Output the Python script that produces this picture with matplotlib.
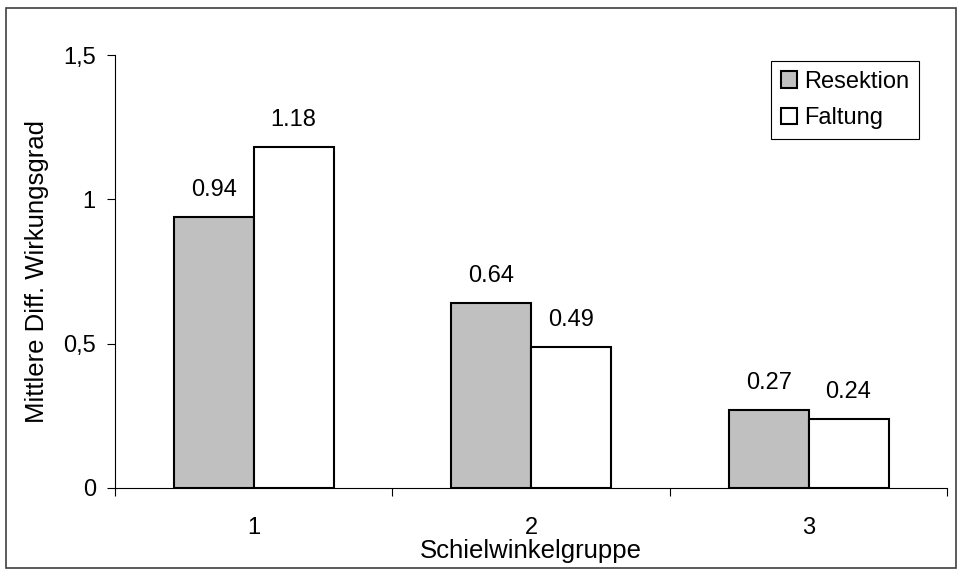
import numpy as np
import matplotlib.pyplot as plt
from matplotlib.patches import Rectangle
from matplotlib.ticker import FixedLocator

groups = ['1', '2', '3']
resektion = [0.94, 0.64, 0.27]
faltung = [1.18, 0.49, 0.24]
yticks = [0, 0.5, 1, 1.5]
ytick_labels = ['0', '0,5', '1', '1,5']

plt.rcParams['font.family'] = ['Liberation Sans', 'DejaVu Sans']
plt.rcParams['font.size'] = 17

fig = plt.figure(figsize=(9.6, 5.7), dpi=100)
ax = fig.add_axes([0.1198, 0.1439, 0.867, 0.7596])

x = np.arange(len(groups))
w = 0.288
b1 = ax.bar(x - w / 2, resektion, w, color='#c0c0c0', edgecolor='black',
            linewidth=1.5, label='Resektion')
b2 = ax.bar(x + w / 2, faltung, w, color='white', edgecolor='black',
            linewidth=1.5, label='Faltung')

for bars, vals in ((b1, resektion), (b2, faltung)):
    for r, v in zip(bars, vals):
        ax.annotate(f'{v:.2f}', (r.get_x() + r.get_width() / 2, v),
                    xytext=(0, 11.5), textcoords='offset points',
                    ha='center', va='bottom', fontsize=17)

ax.set_xlim(-0.5, 2.5)
ax.set_ylim(0, 1.5)
ax.set_yticks(yticks)
ax.set_yticklabels(ytick_labels)
ax.set_xticks(x)
ax.set_xticklabels(groups)
ax.xaxis.set_minor_locator(FixedLocator([-0.5, 0.5, 1.5, 2.5]))
ax.tick_params(axis='x', which='major', length=0, pad=21)
ax.tick_params(axis='x', which='minor', length=5.8, direction='out', width=0.8)
ax.tick_params(axis='y', length=5.8, direction='out', width=0.8, pad=8)
for s in ('top', 'right'):
    ax.spines[s].set_visible(False)
ax.spines['left'].set_linewidth(0.8)
ax.spines['bottom'].set_linewidth(0.8)

ax.set_xlabel('Schielwinkelgruppe', labelpad=0, fontsize=18.5)
ax.set_ylabel('Mittlere Diff. Wirkungsgrad', labelpad=10, fontsize=18.5)

leg = ax.legend(loc='upper right', bbox_to_anchor=(0.966, 0.985),
                fancybox=False, edgecolor='black', framealpha=1,
                handlelength=0.7, handleheight=0.7, handletextpad=0.3,
                borderpad=0.4, labelspacing=0.6, borderaxespad=0, fontsize=17)
leg.get_frame().set_linewidth(0.8)

fig.patches.append(Rectangle((0.006, 0.004), 0.99, 0.982, transform=fig.transFigure,
                             fill=False, edgecolor='#404040', linewidth=1.2))

fig.savefig('out.png', dpi=100)
